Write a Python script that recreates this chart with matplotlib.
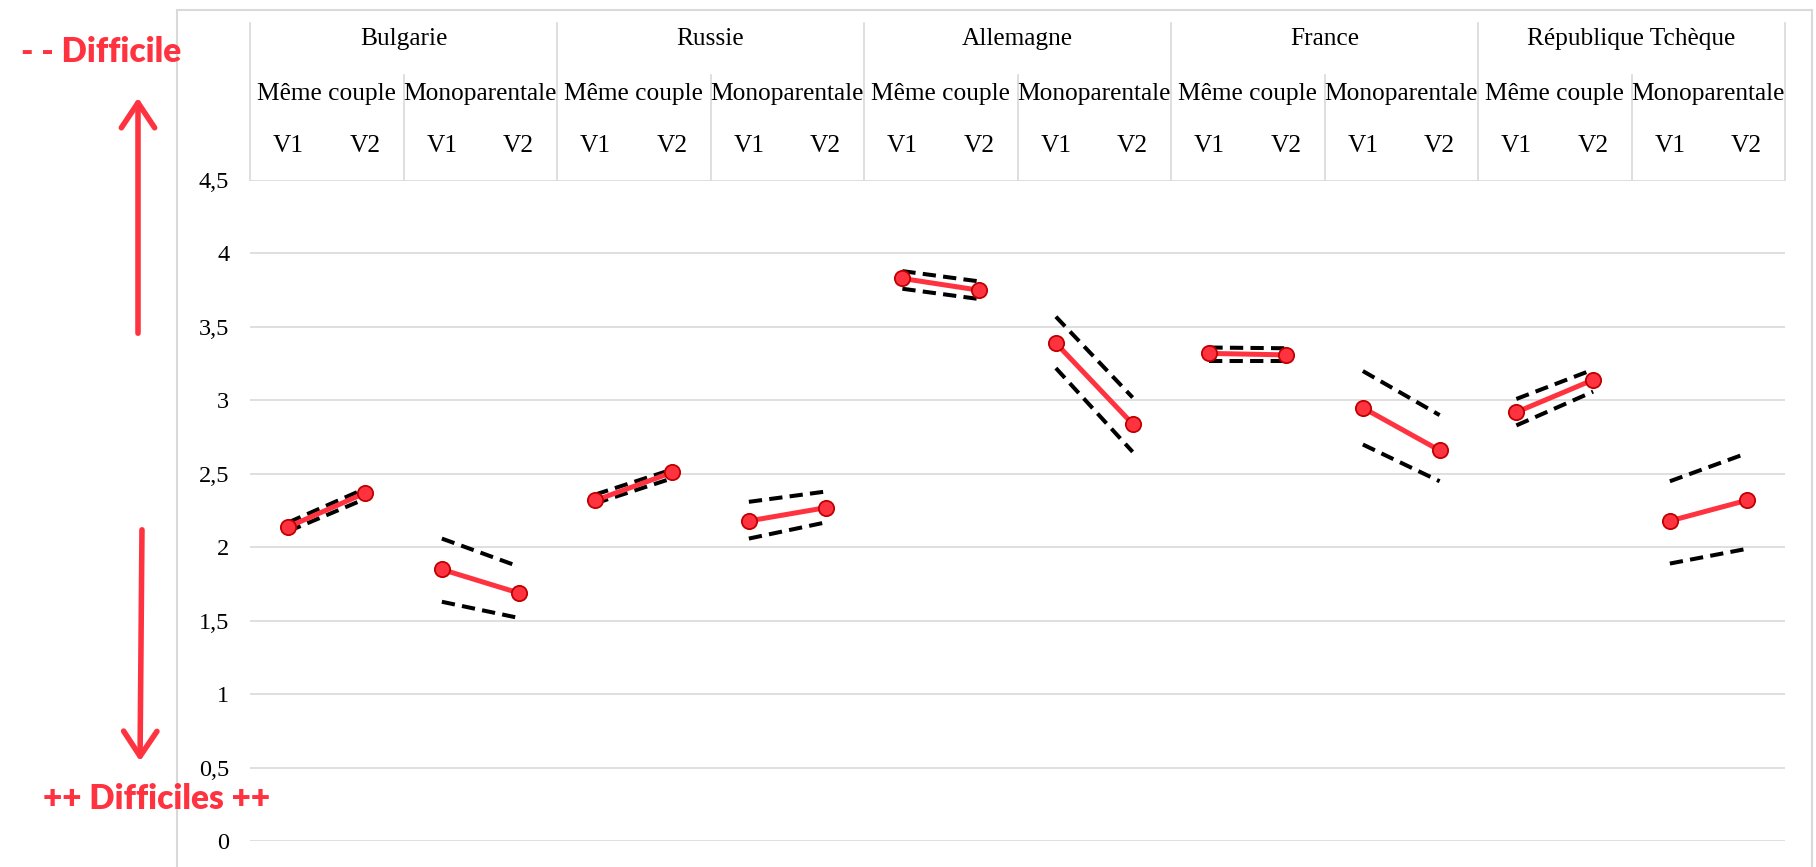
import matplotlib
matplotlib.use("Agg")
import matplotlib.pyplot as plt
from matplotlib.patches import Rectangle, FancyArrowPatch

countries = ["Bulgarie", "Russie", "Allemagne", "France", "République Tchèque"]
groups = ["Même couple", "Monoparentale"]
waves = ["V1", "V2"]

# mean score per (country, group): [V1, V2]
means = [
    [[2.14, 2.37], [1.85, 1.69]],
    [[2.32, 2.51], [2.18, 2.27]],
    [[3.83, 3.75], [3.39, 2.84]],
    [[3.32, 3.31], [2.95, 2.66]],
    [[2.92, 3.14], [2.18, 2.32]],
]
upper = [
    [[2.17, 2.40], [2.06, 1.87]],
    [[2.36, 2.53], [2.31, 2.38]],
    [[3.88, 3.81], [3.57, 3.02]],
    [[3.36, 3.355], [3.20, 2.90]],
    [[3.01, 3.21], [2.45, 2.64]],
]
lower = [
    [[2.11, 2.33], [1.63, 1.52]],
    [[2.30, 2.47], [2.06, 2.17]],
    [[3.76, 3.69], [3.22, 2.65]],
    [[3.27, 3.27], [2.70, 2.45]],
    [[2.83, 3.06], [1.89, 1.99]],
]
yticks = [0, 0.5, 1, 1.5, 2, 2.5, 3, 3.5, 4, 4.5]
ytick_labels = ["0", "0,5", "1", "1,5", "2", "2,5", "3", "3,5", "4", "4,5"]

RED = "#FF3340"
GRID = "#D9D9D9"
SERIF = "Liberation Serif"
W, H = 1816, 867

fig = plt.figure(figsize=(W / 100, H / 100), dpi=100)
ax_top, ax_bot = 180, 841.3
ax = fig.add_axes([250 / W, (H - ax_bot) / H, 1535 / W, (ax_bot - ax_top) / H])

def yfrac(ypx):
    # pixel row -> axes fraction
    return (ax_bot - ypx) / (ax_bot - ax_top)

n_cat = len(countries) * len(groups) * len(waves)
for c in range(len(countries)):
    for g in range(len(groups)):
        x0 = 4 * c + 2 * g
        xs = [x0, x0 + 1]
        ax.plot(xs, upper[c][g], color="black", lw=2.9, dashes=(3.3, 1.8), zorder=3)
        ax.plot(xs, lower[c][g], color="black", lw=2.9, dashes=(3.3, 1.8), zorder=3)
        ax.plot(xs, means[c][g], color=RED, lw=3.6, marker="o", markersize=11,
                markerfacecolor=RED, markeredgecolor="#C00000", markeredgewidth=1.3,
                zorder=4)

ax.set_xlim(-0.5, n_cat - 0.5)
ax.set_ylim(0, 4.5)
ax.set_yticks(yticks)
ax.set_yticklabels(ytick_labels, fontfamily=SERIF, fontsize=17.5)
ax.tick_params(axis="y", length=0, pad=15)
ax.set_xticks([])
ax.yaxis.grid(True, color=GRID, lw=1.2)
ax.set_axisbelow(True)
for s in ax.spines.values():
    s.set_visible(False)

# header table
tr = ax.get_xaxis_transform()
for k in range(len(countries) + 1):
    ax.plot([4 * k - 0.5] * 2, [1, yfrac(22.7)], transform=tr, color=GRID,
            lw=1.2, clip_on=False)
for k in range(len(countries)):
    ax.plot([4 * k + 1.5] * 2, [1, yfrac(75)], transform=tr, color=GRID,
            lw=1.2, clip_on=False)
    ax.text(4 * k + 1.5, yfrac(39), countries[k], transform=tr, ha="center",
            va="center", fontfamily=SERIF, fontsize=18.3)
    for g in range(len(groups)):
        ax.text(4 * k + 2 * g + 0.5, yfrac(94), groups[g], transform=tr,
                ha="center", va="center", fontfamily=SERIF, fontsize=18.3)
        for v in range(len(waves)):
            ax.text(4 * k + 2 * g + v, yfrac(146), waves[v], transform=tr,
                    ha="center", va="center", fontfamily=SERIF, fontsize=18.3)

# outer frame
fig.add_artist(Rectangle((177 / W, -0.05), (1812 - 177) / W, 1 - 10 / H + 0.05,
                         transform=fig.transFigure, fill=False, edgecolor=GRID,
                         lw=1.5))

# difficulty annotations
fig.text(21 / W, 1 - 52 / H, "- - Difficile", color=RED, fontfamily="Lato",
         fontweight="heavy", fontsize=24, ha="left", va="center")
fig.text(43 / W, 1 - 799 / H, "++ Difficiles ++", color=RED, fontfamily="Lato",
         fontweight="heavy", fontsize=24, ha="left", va="center")
for (xa, ya), (xb, yb) in [((138, 336), (138, 95)), ((142, 527), (140, 764))]:
    fig.add_artist(FancyArrowPatch((xa / W, 1 - ya / H), (xb / W, 1 - yb / H),
                                   transform=fig.transFigure,
                                   arrowstyle="->,head_length=0.9,head_width=0.6",
                                   mutation_scale=20, color=RED, lw=4,
                                   capstyle="round", joinstyle="round"))

fig.savefig("out.png", dpi=100)
